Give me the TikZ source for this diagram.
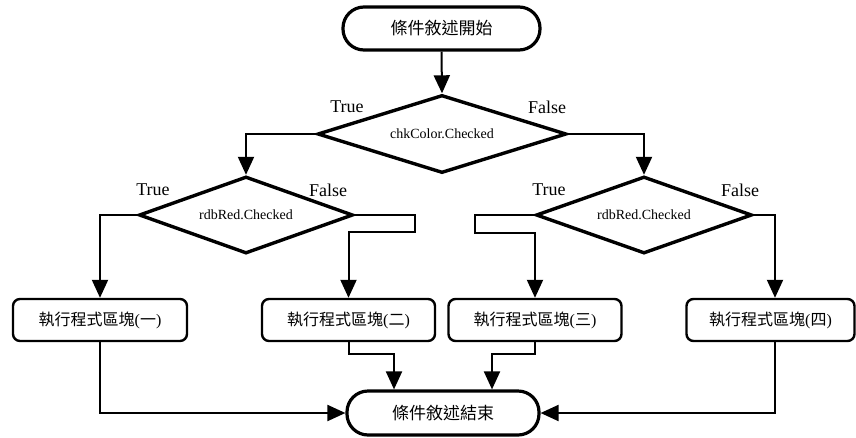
\documentclass[tikz,border=0pt]{standalone}
\usepackage{fontspec}
\setmainfont{Liberation Serif}
\newfontfamily\cjk{Noto Sans CJK TC}
\usetikzlibrary{shapes.geometric,arrows.meta}
\newcommand\blocktext[1]{{\cjk 執行程式區塊}({\cjk #1})}
\begin{document}
\begin{tikzpicture}[x=1pt,y=-1pt,
  term/.style={draw, line width=3.2pt, rounded corners=21pt, minimum height=43pt, inner sep=0pt,
    font=\cjk\fontsize{17}{17}\selectfont},
  decision/.style={draw, diamond, line width=3.4pt, inner sep=0pt, aspect=3,
    font=\fontsize{14}{14}\selectfont},
  block/.style={draw, line width=2.4pt, rounded corners=7pt, minimum height=42pt, inner sep=0pt,
    font=\fontsize{16}{16}\selectfont},
  lbl/.style={font=\fontsize{18}{18}\selectfont, inner sep=0pt},
  conn/.style={line width=2pt, -{Triangle[length=18pt,width=16pt]}},
  line/.style={line width=2pt}
]
\useasboundingbox (0,0) rectangle (856,437);
\fill[white] (0,0) rectangle (856,437);

\node[term, minimum width=197pt] (start) at (441.5,28.5) {條件敘述開始};
\node[decision, minimum width=249pt, minimum height=78pt] (d1) at (442,134) {chkColor.Checked};
\node[decision, minimum width=214pt, minimum height=77pt] (d2) at (246,215) {rdbRed.Checked};
\node[decision, minimum width=216pt, minimum height=77pt] (d3) at (644,215) {rdbRed.Checked};

\node[block, minimum width=174pt] (b1) at (100,320) {\blocktext{一}};
\node[block, minimum width=173pt] (b2) at (348.5,320) {\blocktext{二}};
\node[block, minimum width=173pt] (b3) at (535,320) {\blocktext{三}};
\node[block, minimum width=168pt] (b4) at (770.5,320) {\blocktext{四}};

\node[term, minimum width=192pt, minimum height=44pt] (end) at (443,413) {條件敘述結束};

\node[lbl] (t1) at (347,107) {True};
\node[lbl] (f1) at (547,107) {False};
\node[lbl] (t2) at (153,190) {True};
\node[lbl] (f2) at (328,190) {False};
\node[lbl] (t3) at (549,190) {True};
\node[lbl] (f3) at (740,190) {False};

\coordinate (c2a) at (415,215);
\coordinate (c2b) at (415,232);
\coordinate (c3a) at (475,215);
\coordinate (c3b) at (475,233);
\coordinate (c4) at (775,215);
\coordinate (b4out) at (775,341);
\coordinate (m2) at (394,354);
\coordinate (m3) at (492,354);

\draw[conn] (start.south) -- (d1.north);
\draw[conn] (d1.west) -| (d2.north);
\draw[conn] (d1.east) -| (d3.north);
\draw[conn] (d2.west) -| (b1.north);
\draw[conn] (d2.east) -- (c2a) -- (c2b) -| (b2.north);
\draw[conn] (d3.west) -- (c3a) -- (c3b) -| (b3.north);
\draw[conn] (d3.east) -- (c4) -- (c4 |- b4.north);
\draw[conn] (b1.south) |- (end.west);
\draw[conn] (b4out) |- (end.east);
\draw[conn] (b2.south) |- (m2) -- (m2 |- end.north);
\draw[conn] (b3.south) |- (m3) -- (m3 |- end.north);
\end{tikzpicture}
\end{document}
